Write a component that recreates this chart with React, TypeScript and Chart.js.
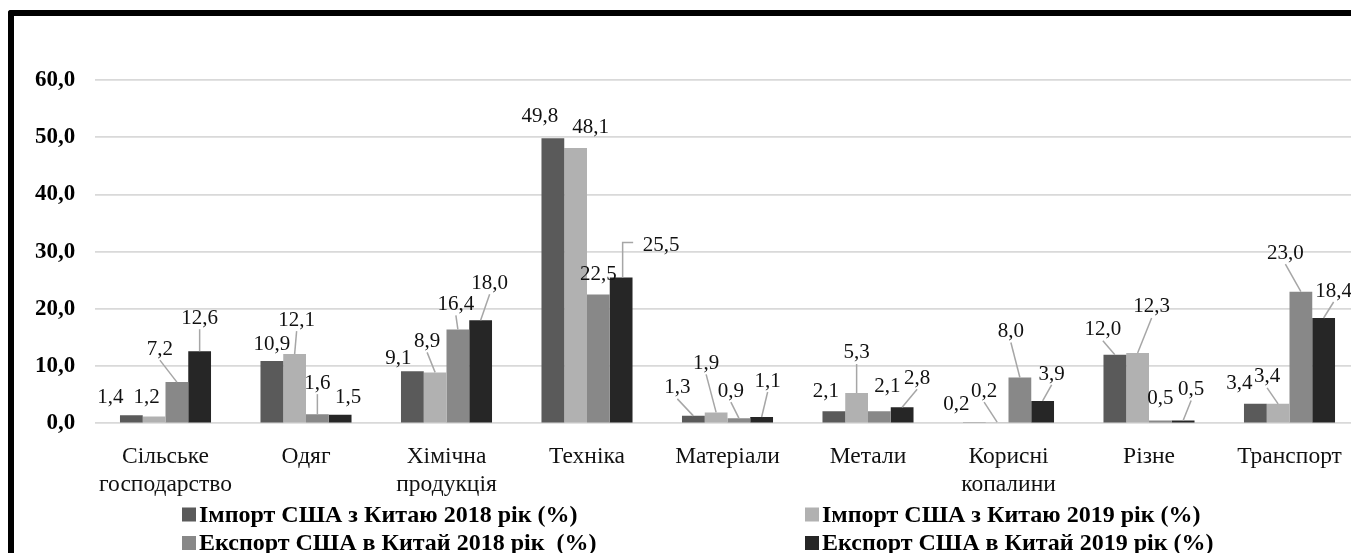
import React, { useEffect, useRef } from 'react';
import { Chart, registerables } from 'chart.js';

Chart.register(...registerables);

// ---- data ----
const categories: (string | string[])[] = [
  ['Сільське', 'господарство'],
  'Одяг',
  ['Хімічна', 'продукція'],
  'Техніка',
  'Матеріали',
  'Метали',
  ['Корисні', 'копалини'],
  'Різне',
  'Транспорт',
];
const import2018 = [1.4, 10.9, 9.1, 49.8, 1.3, 2.1, 0.2, 12.0, 3.4];
const import2019 = [1.2, 12.1, 8.9, 48.1, 1.9, 5.3, 0.2, 12.3, 3.4];
const export2018 = [7.2, 1.6, 16.4, 22.5, 0.9, 2.1, 8.0, 0.5, 23.0];
const export2019 = [12.6, 1.5, 18.0, 25.5, 1.1, 2.8, 3.9, 0.5, 18.4];
const seriesLabels = [
  'Імпорт США з Китаю 2018 рік (%)',
  'Імпорт США з Китаю 2019 рік (%)',
  'Експорт США в Китай 2018 рік  (%)',
  'Експорт США в Китай 2019 рік (%)',
];
const yMin = 0;
const yMax = 60;
const yStep = 10;

// ---- styles / layout ----
const seriesColors = ['#5a5a5a', '#b1b1b1', '#888888', '#262626'];
const SERIF = '"Liberation Serif", "Times New Roman", serif';
// data-label offsets (px) from default position, and leader type (0 none, 1 straight, 2 elbow)
const labelOffsets: [number, number, number][][] = [
  [[-21, 1, 0], [0, 3, 0], [-14, 6, 0], [-13, -3, 0], [-16, -9, 1], [-8, -1, 0], [-18, 1, 0], [-12, -6, 1], [-16, -1, 0]],
  [[-7.5, 0, 0], [2, -15, 1], [-8, -12, 1], [15, -2, 0], [-10, -30, 1], [0, -21, 1], [-13, -12, 1], [14, -27, 1], [-11, -8, 1]],
  [[-17, -14, 1], [0, -12, 1], [-2, -6, 1], [0, -1, 0], [-8, -8, 1], [8, -6, 0], [-9, -27, 1], [0, -3, 0], [-15.5, -19.5, 1]],
  [[0, -14, 1], [8, 2, 0], [9, -18, 1], [40, -13, 2], [6, -17, 1], [15, -10, 1], [9, -8, 1], [8, -12, 1], [10, -8, 1]],
];

const CANVAS_W = 1360;
const CANVAS_H = 560;

const fmt = (v: number) => v.toFixed(1).replace('.', ',');

const dataLabelPlugin = {
  id: 'dataLabelPlugin',
  afterDatasetsDraw(chart: any) {
    const ctx = chart.ctx;
    ctx.save();
    ctx.font = `21px ${SERIF}`;
    ctx.textAlign = 'center';
    ctx.textBaseline = 'middle';
    chart.data.datasets.forEach((ds: any, di: number) => {
      const meta = chart.getDatasetMeta(di);
      meta.data.forEach((bar: any, i: number) => {
        const [dx, dy, leader] = labelOffsets[di][i];
        const lx = bar.x + dx;
        const ly = bar.y - 20 + dy;
        ctx.strokeStyle = '#a6a6a6';
        ctx.lineWidth = 1.5;
        if (leader === 1) {
          ctx.beginPath();
          ctx.moveTo(lx, ly + 12);
          ctx.lineTo(bar.x, bar.y);
          ctx.stroke();
        } else if (leader === 2) {
          ctx.beginPath();
          ctx.moveTo(lx - 28, ly - 2);
          ctx.lineTo(bar.x + 1.5, ly - 2);
          ctx.lineTo(bar.x + 1.5, bar.y);
          ctx.stroke();
        }
        ctx.fillStyle = '#111';
        ctx.fillText(fmt(ds.data[i]), lx, ly + 1);
      });
    });
    ctx.restore();
  },
};

const legendPlugin = {
  id: 'customLegend',
  afterDraw(chart: any) {
    const ctx = chart.ctx;
    const colX = [168, 791];
    const rowY = [498.5, 527];
    ctx.save();
    ctx.font = `bold 24px ${SERIF}`;
    ctx.textAlign = 'left';
    ctx.textBaseline = 'middle';
    chart.data.datasets.forEach((ds: any, i: number) => {
      const x = colX[i % 2];
      const y = rowY[Math.floor(i / 2)];
      ctx.fillStyle = ds.backgroundColor;
      ctx.fillRect(x, y - 7, 14, 14);
      ctx.fillStyle = '#000';
      ctx.fillText(ds.label, x + 17, y + 1);
    });
    ctx.restore();
  },
};

export default function App() {
  const ref = useRef<HTMLCanvasElement | null>(null);
  useEffect(() => {
    if (!ref.current) return;
    const series = [import2018, import2019, export2018, export2019];
    const chart = new Chart(ref.current, {
      type: 'bar',
      data: {
        labels: categories as any,
        datasets: series.map((d, i) => ({
          label: seriesLabels[i],
          data: d,
          backgroundColor: seriesColors[i],
          borderWidth: 0,
          categoryPercentage: 0.648,
          barPercentage: 1,
        })),
      },
      options: {
        responsive: false,
        animation: false,
        devicePixelRatio: 1,
        layout: { padding: { top: 64, right: 14.25, left: 0, bottom: 0 } },
        plugins: {
          legend: { display: false },
          tooltip: { enabled: false },
          title: { display: false },
        },
        scales: {
          x: {
            grid: { display: false, drawTicks: false },
            border: { display: false },
            ticks: {
              font: { family: SERIF, size: 23.5, lineHeight: 1.17 },
              color: '#111',
              padding: 20,
              maxRotation: 0,
              autoSkip: false,
            },
            afterFit(scale: any) {
              scale.height = CANVAS_H - 407.3;
              scale.paddingLeft = 0;
              scale.paddingRight = 0;
            },
          },
          y: {
            min: yMin,
            max: yMax,
            grid: { color: '#d9d9d9', lineWidth: 1.8, drawTicks: false },
            border: { display: false },
            ticks: {
              stepSize: yStep,
              padding: 20,
              font: { family: SERIF, size: 23, weight: 'bold' },
              color: '#000',
              callback: (v: any) => fmt(Number(v)),
            },
            afterFit(scale: any) {
              scale.width = 81.25;
              scale.paddingTop = 0;
              scale.paddingBottom = 0;
            },
          },
        },
      },
      plugins: [dataLabelPlugin, legendPlugin],
    });
    return () => chart.destroy();
  }, []);

  return (
    <div style={{ position: 'fixed', inset: 0, overflow: 'hidden', background: '#fff' }}>
      <div
        style={{
          position: 'absolute',
          left: 8,
          top: 10,
          borderLeft: '6px solid #000',
          borderTop: '6px solid #000',
          borderTopLeftRadius: 3,
          width: CANVAS_W,
          height: CANVAS_H,
        }}
      >
        <canvas ref={ref} width={CANVAS_W} height={CANVAS_H} style={{ display: 'block', width: CANVAS_W, height: CANVAS_H }} />
      </div>
    </div>
  );
}
